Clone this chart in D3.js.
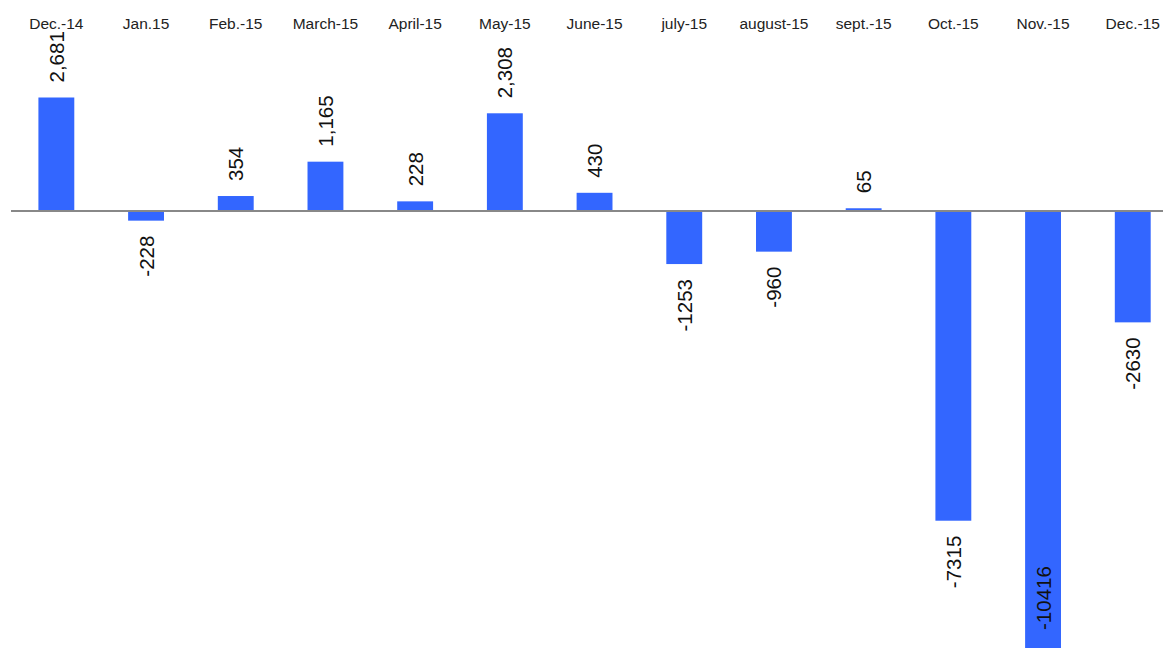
<!DOCTYPE html>
<html>
<head>
<meta charset="utf-8">
<script src="https://cdn.jsdelivr.net/npm/d3@7/dist/d3.min.js"></script>
<style>
  html, body { margin: 0; padding: 0; background: #fff; }
  svg { display: block; font-family: "Liberation Sans", Arial, sans-serif; }
</style>
</head>
<body>
<svg id="chart" width="1163" height="648"></svg>
<script>
// Monthly net change, Dec 2014 – Dec 2015
const months = ["Dec.-14", "Jan.15", "Feb.-15", "March-15", "April-15", "May-15", "June-15",
                "july-15", "august-15", "sept.-15", "Oct.-15", "Nov.-15", "Dec.-15"];
const values = [2681, -228, 354, 1165, 228, 2308, 430, -1253, -960, 65, -7315, -10416, -2630];

const W = 1163, H = 648;
const svg = d3.select("#chart");

const x = d3.scaleBand()
  .domain(months)
  .range([11.5, 1177.6])
  .paddingInner(0.6)
  .paddingOuter(0.3);

const y = d3.scaleLinear()
  .domain([d3.min(values), d3.max(values)])
  .range([652, 97.5]);

const y0 = y(0);

// bars
svg.append("g").selectAll("rect")
  .data(values)
  .join("rect")
  .attr("x", (d, i) => x(months[i]))
  .attr("width", x.bandwidth())
  .attr("y", d => Math.min(y(d), y0))
  .attr("height", d => Math.abs(y(d) - y0))
  .attr("fill", "#3366ff");

// zero line
svg.append("line")
  .attr("x1", 11).attr("x2", W)
  .attr("y1", y0).attr("y2", y0)
  .attr("stroke", "#888").attr("stroke-width", 2);

// month labels along the top
svg.append("g").selectAll("text")
  .data(months)
  .join("text")
  .attr("x", d => x(d) + x.bandwidth() / 2)
  .attr("y", 28.5)
  .attr("text-anchor", "middle")
  .attr("font-size", "15.5px")
  .attr("fill", "#222")
  .text(d => d);

// rotated value labels
const fmt = d => d >= 0 ? d3.format(",")(d) : String(d);
const gap = 15;
const labels = svg.append("g").selectAll("text")
  .data(values)
  .join("text")
  .attr("font-size", "20.5px")
  .attr("fill", "#111")
  .attr("dominant-baseline", "central")
  .text(fmt);

labels.each(function(d, i) {
  const t = d3.select(this);
  const len = this.getComputedTextLength();
  const cx = x(months[i]) + x.bandwidth() / 2;
  let startY;   // screen y where the rotated text begins (its lower end)
  if (d >= 0) {
    startY = y(d) - gap;
  } else {
    // text runs upward, so its lower end sits below the bar
    startY = y(d) + gap + len;
    if (startY > H - 10) startY = H - 18; // does not fit: tuck inside the bar
  }
  t.attr("text-anchor", "start")
   .attr("transform", `translate(${cx},${startY}) rotate(-90)`);
});
</script>
</body>
</html>
